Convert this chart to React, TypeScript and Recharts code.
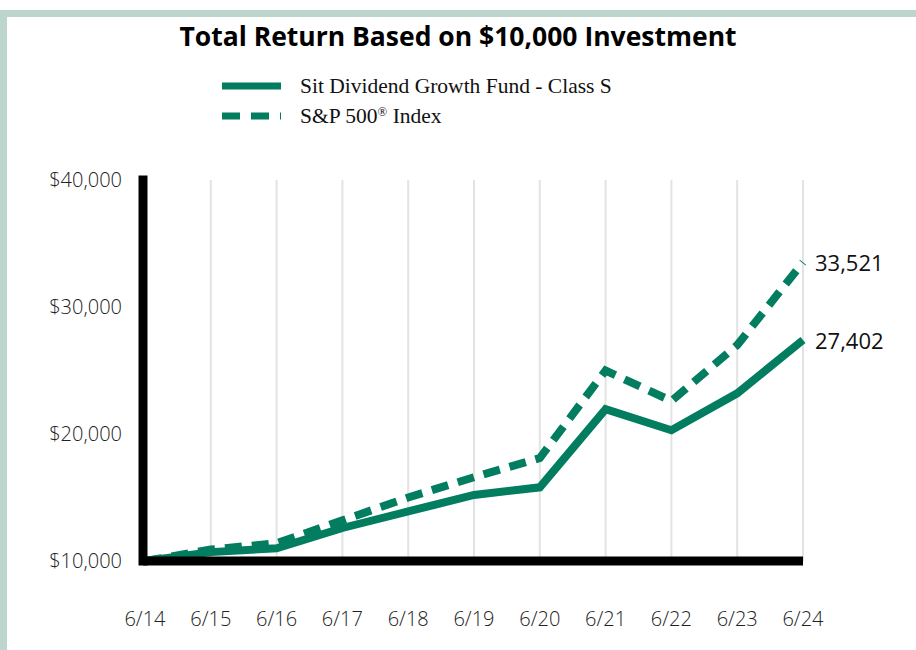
import React from 'react';
import { LineChart, Line, XAxis, YAxis, CartesianGrid, Legend } from 'recharts';

const periods = ['6/14', '6/15', '6/16', '6/17', '6/18', '6/19', '6/20', '6/21', '6/22', '6/23', '6/24'];
const fundValues = [10000, 10700, 11000, 12600, 13900, 15200, 15800, 21950, 20300, 23200, 27402];
const indexValues = [10000, 10900, 11400, 13200, 15000, 16600, 18100, 25000, 22600, 27000, 33521];
const yTicks = [10000, 20000, 30000, 40000];
const fundName = 'Sit Dividend Growth Fund - Class S';
const indexName = 'S&P 500® Index';
const legendOrder = [fundName, indexName];
const chartTitle = 'Total Return Based on $10,000 Investment';

const GREEN = '#027d5f';
const SANS = '"Open Sans", sans-serif';
const SERIF = '"Liberation Serif", "Times New Roman", serif';

const data = periods.map((p, i) => ({ period: p, fund: fundValues[i], index: indexValues[i] }));

const fmtMoney = (v: number) => '$' + v.toLocaleString('en-US');
const fmtNum = (v: number) => v.toLocaleString('en-US');

const makeEndLabel = (last: number) => (props: any) => {
  const { x, y, value, index } = props;
  if (index !== last) return null;
  return (
    <text x={x + 12} y={y} dominantBaseline="central" fontFamily={SANS} fontSize={22} fill="#111">
      {fmtNum(value)}
    </text>
  );
};

const renderName = (name: string) => {
  const i = name.indexOf('®');
  if (i < 0) return name;
  return (
    <>
      {name.slice(0, i)}
      <sup style={{ fontSize: '0.6em', verticalAlign: '0.55em', lineHeight: 0 }}>®</sup>
      {name.slice(i + 1)}
    </>
  );
};

const LegendContent = (props: any) => {
  const payload = [...(props.payload || [])].sort(
    (a: any, b: any) => legendOrder.indexOf(a.value) - legendOrder.indexOf(b.value)
  );
  return (
    <div style={{ position: 'absolute', left: 222, top: 71 }}>
      {payload.map((p: any, i: number) => (
        <div key={i} style={{ display: 'flex', alignItems: 'center', height: 30 }}>
          <svg width={60} height={10} style={{ display: 'block' }}>
            <line
              x1={0}
              y1={5}
              x2={59}
              y2={5}
              stroke={GREEN}
              strokeWidth={7}
              strokeDasharray={p.payload && p.payload.strokeDasharray ? '18 11' : undefined}
            />
          </svg>
          <span
            style={{
              marginLeft: 18,
              fontFamily: SERIF,
              fontSize: 21.5,
              color: '#111',
              lineHeight: '30px',
              whiteSpace: 'nowrap',
            }}
          >
            {renderName(p.value)}
          </span>
        </div>
      ))}
    </div>
  );
};

export default function App() {
  const last = data.length - 1;
  return (
    <div style={{ position: 'absolute', left: 0, top: 0, width: 916, height: 650, background: '#fff', overflow: 'hidden' }}>
      <div style={{ position: 'absolute', left: 0, top: 10, width: 916, height: 7, background: '#bcd6cc' }} />
      <div style={{ position: 'absolute', left: 0, top: 10, width: 7, height: 640, background: '#bcd6cc' }} />
      <div
        style={{
          position: 'absolute',
          left: 0,
          top: 18,
          width: 916,
          textAlign: 'center',
          fontFamily: SANS,
          fontWeight: 700,
          fontSize: 26.5,
          lineHeight: '36px',
          color: '#000',
        }}
      >
        {chartTitle}
      </div>
      <div style={{ position: 'absolute', left: 0, top: 0 }}>
        <LineChart width={916} height={650} data={data} margin={{ top: 180, right: 113, bottom: 0, left: 0 }}>
          <CartesianGrid horizontal={false} vertical={true} stroke="#e3e3e3" strokeWidth={2} />
          <XAxis
            dataKey="period"
            height={89}
            padding={{ left: 2, right: 0 }}
            axisLine={{ stroke: '#000', strokeWidth: 9 }}
            tickLine={false}
            tickSize={0}
            tickMargin={51}
            interval={0}
            tick={{ fontFamily: SANS, fontSize: 20, fontWeight: 300, fill: '#222' }}
          />
          <YAxis
            width={143}
            domain={[10000, 40000]}
            ticks={yTicks}
            allowDataOverflow
            axisLine={{ stroke: '#000', strokeWidth: 9, strokeLinecap: 'square' }}
            tickLine={false}
            tickSize={0}
            tickMargin={21}
            tickFormatter={fmtMoney}
            tick={{ fontFamily: SANS, fontSize: 20, fontWeight: 300, fill: '#222' }}
          />
          <Legend
            layout="horizontal"
            verticalAlign="middle"
            align="center"
            wrapperStyle={{ position: 'absolute', left: 0, top: 0, width: 0, height: 0 }}
            content={LegendContent}
          />
          <Line
            type="linear"
            dataKey="fund"
            name={fundName}
            stroke={GREEN}
            strokeWidth={8}
            dot={false}
            activeDot={false}
            isAnimationActive={false}
            label={makeEndLabel(last)}
          />
          <Line
            type="linear"
            dataKey="index"
            name={indexName}
            stroke={GREEN}
            strokeWidth={8}
            strokeDasharray="17 10"
            dot={false}
            activeDot={false}
            isAnimationActive={false}
            label={makeEndLabel(last)}
          />
        </LineChart>
      </div>
    </div>
  );
}
